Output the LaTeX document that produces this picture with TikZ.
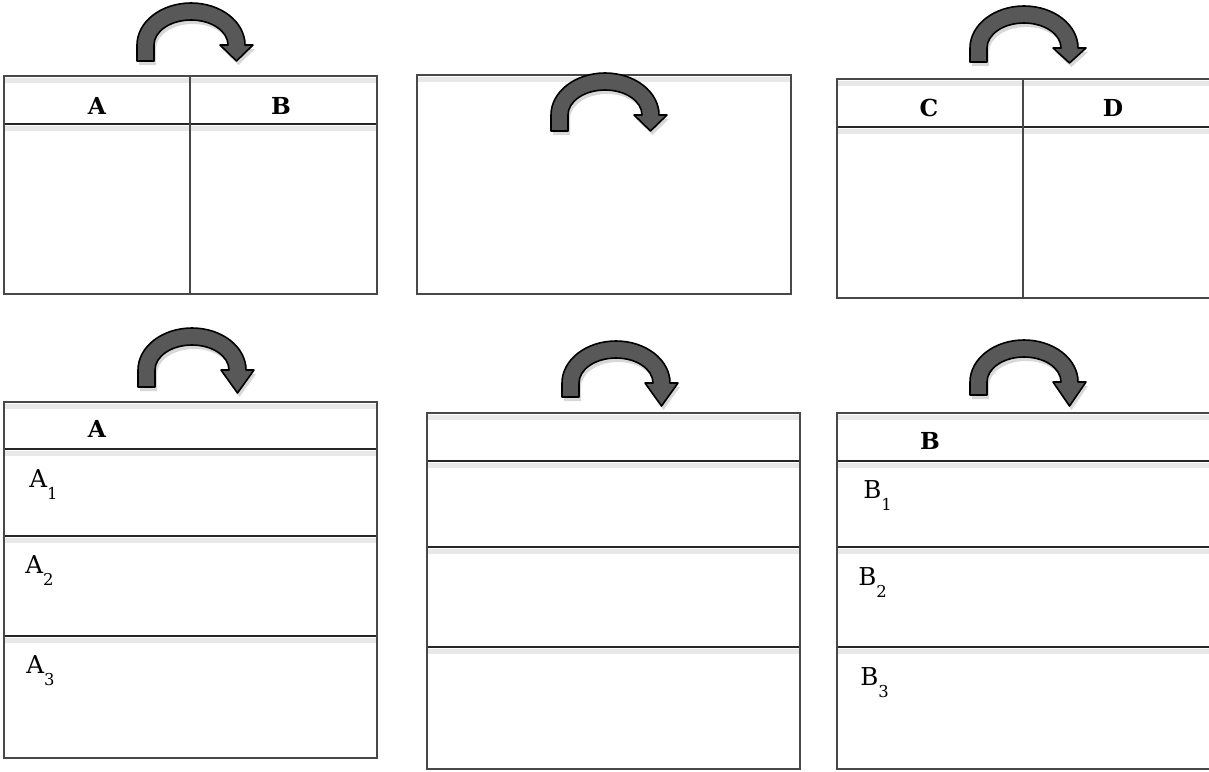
\documentclass[tikz,border=0pt]{standalone}
\usepackage{fontspec}
\setmainfont{DejaVu Serif}
\usepackage{tikz}
\usetikzlibrary{shadows}

\definecolor{arrowgray}{RGB}{88,88,88}
\definecolor{framegray}{RGB}{72,72,72}

% curved turn arrow: centre, leg length, head length
\newcommand{\turnarrow}[3]{%
	\begin{scope}[shift={#1}]
		\draw[turn] (-54,#2) -- (-54,0) arc[start angle=180, end angle=360, x radius=54, y radius=42]
			-- (62,0) -- (45.5,#3) -- (29,0) -- (37,0)
			arc[start angle=360, end angle=180, x radius=37, y radius=25] -- (-37,#2) -- cycle;
	\end{scope}}
\newcommand{\lowsub}[1]{\raisebox{-6.3pt}{\fontsize{8.2}{9}\selectfont #1}}

\begin{document}
\begin{tikzpicture}[x=0.5pt, y=-0.5pt,
	frame/.style={draw=framegray, line width=0.8pt},
	row/.style={draw=black!85, line width=0.7pt},
	rowshade/.style={draw=black!9, line width=2.5pt},
	turn/.style={draw=black, line width=0.8pt, fill=arrowgray, line join=round,
		drop shadow={shadow xshift=1pt, shadow yshift=-2pt, opacity=0.3}},
	hdr/.style={font=\bfseries\fontsize{11.7}{14}\selectfont},
	item/.style={anchor=base west, inner sep=0pt, font=\fontsize{12.3}{14}\selectfont}]
	\useasboundingbox (0,0) rectangle (1209,771);
	\fill[white] (0,0) rectangle (1209,771);

	% top left table (A | B)
	\foreach \y in {80,128} {\draw[rowshade] (4,\y) -- (377,\y);}
	\draw[row] (4,124) -- (377,124);
	\draw[frame] (190,76) -- (190,294);
	\draw[frame] (4,76) rectangle (377,294);
	\node[hdr] (hA) at (97,106) {A};
	\node[hdr] (hB) at (281,106) {B};

	% top middle box
	\draw[rowshade] (417,79) -- (791,79);
	\draw[frame] (417,75) rectangle (791,294);

	% top right table (C | D)
	\foreach \y in {83,131} {\draw[rowshade] (837,\y) -- (1214,\y);}
	\draw[row] (837,127) -- (1214,127);
	\draw[frame] (1023,79) -- (1023,298);
	\draw[frame] (837,79) rectangle (1214,298);
	\node[hdr] (hC) at (929,108) {C};
	\node[hdr] (hD) at (1113,108) {D};

	% bottom left list
	\foreach \y in {402,449,536,636} {\draw[rowshade] (4,\y+4) -- (377,\y+4);}
	\foreach \y in {449,536,636} {\draw[row] (4,\y) -- (377,\y);}
	\draw[frame] (4,402) rectangle (377,758);
	\node[hdr] (lA) at (97,429) {A};
	\node[item] (a1) at (29,487) {A\lowsub{1}};
	\node[item] (a2) at (25,573) {A\lowsub{2}};
	\node[item] (a3) at (26,673) {A\lowsub{3}};

	% bottom middle list
	\foreach \y in {413,461,547,647} {\draw[rowshade] (427,\y+4) -- (800,\y+4);}
	\foreach \y in {461,547,647} {\draw[row] (427,\y) -- (800,\y);}
	\draw[frame] (427,413) rectangle (800,769);

	% bottom right list
	\foreach \y in {413,461,547,647} {\draw[rowshade] (837,\y+4) -- (1214,\y+4);}
	\foreach \y in {461,547,647} {\draw[row] (837,\y) -- (1214,\y);}
	\draw[frame] (837,413) rectangle (1214,769);
	\node[hdr] (lB) at (930,441) {B};
	\node[item] (b1) at (863,498) {B\lowsub{1}};
	\node[item] (b2) at (858,585) {B\lowsub{2}};
	\node[item] (b3) at (860,685) {B\lowsub{3}};

	% turn arrows
	\turnarrow{(191,45)}{16}{16}
	\turnarrow{(605,115)}{16}{16}
	\turnarrow{(1024,48)}{14}{15}
	\turnarrow{(192,370)}{17}{23}
	\turnarrow{(616,383)}{14}{23}
	\turnarrow{(1024,382)}{13}{24}
\end{tikzpicture}
\end{document}
